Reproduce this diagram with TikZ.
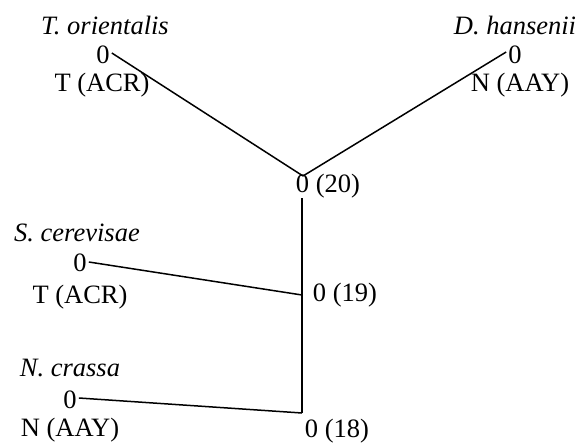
\documentclass[tikz,border=0pt]{standalone}
\usepackage{fontspec}
\setmainfont{Liberation Serif}
\begin{document}
\begin{tikzpicture}[x=1pt,y=-1pt,
  lbl/.style={inner sep=0pt,font=\fontsize{26.5}{30}\selectfont},
  sp/.style={lbl,font=\fontsize{26.5}{30}\selectfont\itshape},
  br/.style={line width=1.5pt}]
\useasboundingbox (0,0) rectangle (579,444);
% leaves
\node[sp] (ton) at (105,25) {T. orientalis};
\node[lbl] (to0) at (103,55) {0};
\node[lbl] (toc) at (102,85) {T (ACR)};
\node[sp] (dhn) at (515,25) {D. hansenii};
\node[lbl] (dh0) at (515,55) {0};
\node[lbl] (dhc) at (520,85) {N (AAY)};
\node[sp] (scn) at (77,233) {S. cerevisae};
\node[lbl] (sc0) at (80,263) {0};
\node[lbl] (scc) at (80,297) {T (ACR)};
\node[sp] (ncn) at (70,368) {N. crassa};
\node[lbl] (nc0) at (70,400) {0};
\node[lbl] (ncc) at (70,430) {N (AAY)};
% internal
\node[lbl] (n20) at (328,186) {0 (20)};
\node[lbl] (n19) at (345,295) {0 (19)};
\node[lbl] (n18) at (337,431) {0 (18)};
\coordinate (j20) at (303,176);
\coordinate (j20b) at (302,198);
\coordinate (j19) at (302,295);
\coordinate (j18) at (302,413);
\draw[br] (to0.east) ++(2,-2) coordinate (a1) -- (j20);
\draw[br] (dh0.west) ++(-2,-3) coordinate (a2) -- (j20);
\draw[br] (j20b) -- (j18);
\draw[br] (sc0.east) ++(2,-1) coordinate (a3) -- (j19);
\draw[br] (nc0.east) ++(2,-2) coordinate (a4) -- (j18);
\end{tikzpicture}
\end{document}
